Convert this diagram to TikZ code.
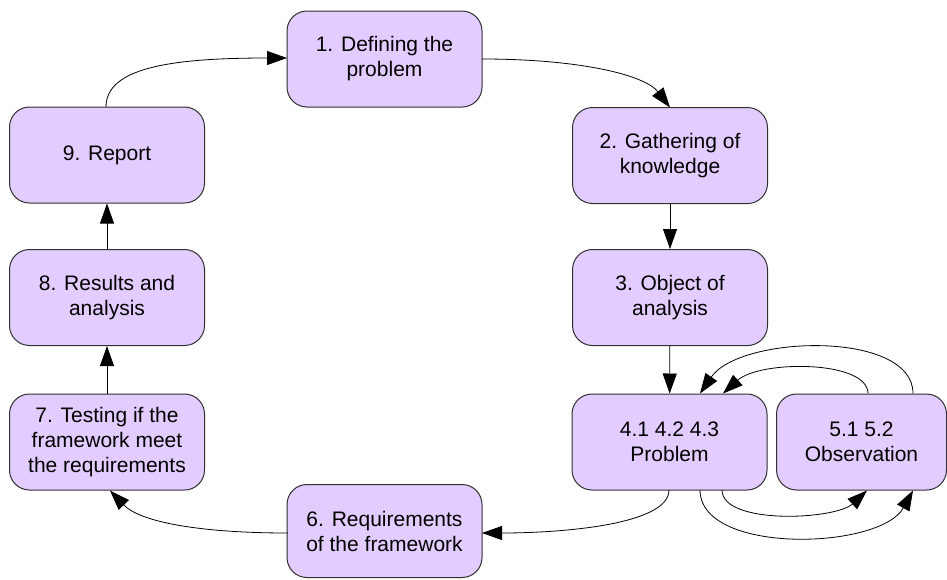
\documentclass[tikz,border=0pt]{standalone}
\usepackage{fontspec}
\setmainfont{Liberation Sans}
\usetikzlibrary{arrows.meta}
\definecolor{boxfill}{HTML}{E3CCFF}
\definecolor{boxline}{HTML}{303030}
\tikzset{
  stepbox/.style={draw=boxline, fill=boxfill, line width=1pt, rounded corners=20pt,
    minimum width=195pt, minimum height=96pt, inner sep=0pt, align=center,
    font=\fontsize{21}{25}\selectfont},
  flow/.style={draw=black, line width=0.8pt,
    -{Triangle[length=20pt, width=14pt]}}
}
\begin{document}
\begin{tikzpicture}[x=1pt, y=-1pt]
\useasboundingbox (0,0) rectangle (947,579);

% process steps
\node[stepbox] (n1) at (384.5,59) {1. Defining the\\problem};
\node[stepbox] (n2) at (670,155.5) {2. Gathering of\\knowledge};
\node[stepbox] (n3) at (670,297.5) {3. Object of\\analysis};
\node[stepbox] (n4) at (669.5,442) {4.1 4.2 4.3\\Problem};
\node[stepbox, minimum width=170pt] (n5) at (861.5,442) {5.1 5.2\\Observation};
\node[stepbox, minimum height=93pt] (n6) at (384.5,531) {6. Requirements\\of the framework};
\node[stepbox] (n7) at (107,442) {7. Testing if the\\framework meet\\the requirements};
\node[stepbox] (n8) at (107,297.5) {8. Results and\\analysis};
\node[stepbox] (n9) at (107,155) {9. Report};

% anchor points on the box edges
\coordinate (n9t) at (106,107);
\coordinate (n1l) at (287,58);
\coordinate (n1r) at (482,59);
\coordinate (n2t) at (670,107.5);
\coordinate (n4ta) at (700,393.5);
\coordinate (n4tb) at (723,393.5);
\coordinate (n5ta) at (868,393.5);
\coordinate (n5tb) at (913,393.5);
\coordinate (n4ba) at (669,490);
\coordinate (n4bb) at (700,490);
\coordinate (n4bc) at (722,490);
\coordinate (n5ba) at (867,490.5);
\coordinate (n5bb) at (913,490.5);
\coordinate (n6r) at (482,533);
\coordinate (n6l) at (288,533);
\coordinate (n7b) at (110,490.5);

% main cycle
\draw[flow] (n9t) .. controls (106,68) and (170,58) .. (n1l);
\draw[flow] (n1r) .. controls (580,59) and (645,75) .. (n2t);
\draw[flow] (n2) -- (n3);
\draw[flow] (n3) -- (n4);
\draw[flow] (n4ba) .. controls (669,525) and (560,533) .. (n6r);
\draw[flow] (n6l) .. controls (200,533) and (140,522) .. (n7b);
\draw[flow] (n7) -- (n8);
\draw[flow] (n8) -- (n9);

% problem / observation loops
\draw[flow] (n5ta) .. controls (868,360) and (760,360) .. (n4tb);
\draw[flow] (n5tb) .. controls (913,330) and (740,335) .. (n4ta);
\draw[flow] (n4bc) .. controls (722,525) and (835,520) .. (n5ba);
\draw[flow] (n4bb) .. controls (700,555) and (880,550) .. (n5bb);
\end{tikzpicture}
\end{document}
